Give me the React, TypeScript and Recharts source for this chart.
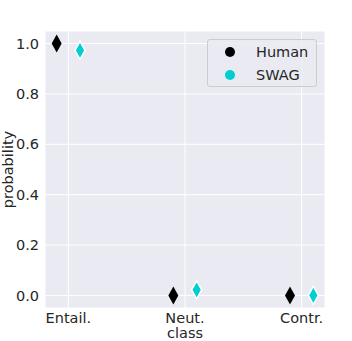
import { ScatterChart, Scatter, XAxis, YAxis, CartesianGrid, Legend } from "recharts";

const classes = ["Entail.", "Neut.", "Contr."];
const human = [1.0, 0.0, 0.0];
const swag = [0.973, 0.022, 0.0];
const yTicks = [0, 0.2, 0.4, 0.6, 0.8, 1.0];

const series = [
	{ name: "Human", values: human, color: "#000000", shift: -0.1, edge: "none" },
	{ name: "SWAG", values: swag, color: "#00CED1", shift: 0.1, edge: "#ffffff" },
];

const FONT = "DejaVu Sans, sans-serif";
const TEXT = "#262626";
const SIZE = 14.5;

const diamond = (color: string, edge: string) => (props: any) => {
	const { cx, cy } = props;
	return (
		<polygon
			points={`${cx},${cy - 9} ${cx + 5},${cy} ${cx},${cy + 9} ${cx - 5},${cy}`}
			fill={color}
			stroke={edge}
			strokeWidth={1.5}
		/>
	);
};

function LegendBox() {
	return (
		<div
			style={{
				width: 110,
				height: 48,
				border: "1px solid #cccccc",
				borderRadius: 3,
				background: "rgba(234,234,242,0.8)",
				fontFamily: FONT,
				fontSize: SIZE,
				color: TEXT,
				boxSizing: "border-box",
				position: "relative",
			}}
		>
			{series.map((s, i) => (
				<div key={s.name} style={{ position: "absolute", left: 0, top: 2 + i * 23, height: 20, display: "flex", alignItems: "center", whiteSpace: "nowrap" }}>
					<span style={{ display: "inline-block", width: 10, height: 10, borderRadius: 5, background: s.color, marginLeft: 17 }} />
					<span style={{ marginLeft: 21 }}>{s.name}</span>
				</div>
			))}
		</div>
	);
}

export default function App() {
	return (
		<div style={{ position: "absolute", left: 0, top: 0, background: "#fff" }}>
			<ScatterChart width={352} height={341} margin={{ top: 31, right: 27, left: 0, bottom: 0 }}>
				<CartesianGrid fill="#EAEAF2" stroke="#ffffff" strokeWidth={1} />
				<XAxis
					type="number"
					dataKey="x"
					domain={[-0.2, 2.2]}
					ticks={[0, 1, 2]}
					tickFormatter={(v: number) => classes[v]}
					allowDataOverflow
					axisLine={false}
					tickLine={false}
					tickSize={0}
					tickMargin={5}
					height={33}
					tick={{ fill: TEXT, fontSize: SIZE, fontFamily: FONT }}
					label={{ value: "class", position: "insideBottom", offset: 3, fill: TEXT, fontSize: SIZE, fontFamily: FONT }}
				/>
				<YAxis
					type="number"
					dataKey="y"
					domain={[-0.05, 1.05]}
					ticks={yTicks}
					tickFormatter={(v: number) => v.toFixed(1)}
					allowDataOverflow
					axisLine={false}
					tickLine={false}
					tickSize={0}
					tickMargin={6}
					width={45}
					tick={{ fill: TEXT, fontSize: SIZE, fontFamily: FONT }}
					label={{ value: "probability", angle: -90, position: "insideLeft", offset: 8, fill: TEXT, fontSize: SIZE, fontFamily: FONT, style: { textAnchor: "middle" } }}
				/>
				<Legend
					layout="vertical"
					align="center"
					verticalAlign="middle"
					wrapperStyle={{ left: 207, top: 39, width: 110 }}
					content={() => <LegendBox />}
				/>
				{series.map((s) => (
					<Scatter
						key={s.name}
						name={s.name}
						data={s.values.map((y, i) => ({ x: i + s.shift, y }))}
						fill={s.color}
						shape={diamond(s.color, s.edge)}
						isAnimationActive={false}
					/>
				))}
			</ScatterChart>
		</div>
	);
}
